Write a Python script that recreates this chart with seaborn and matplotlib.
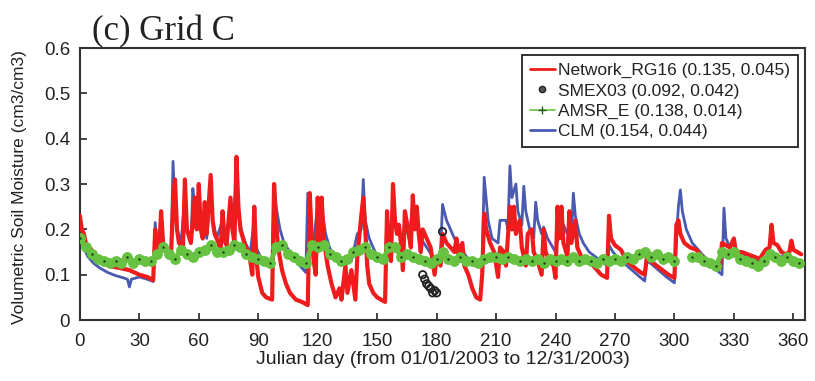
import numpy as np
import pandas as pd
import matplotlib
matplotlib.use("Agg")
import matplotlib.pyplot as plt
from matplotlib.lines import Line2D
import seaborn as sns

# ---------------- data ----------------
net_day = [0, 1, 2, 3, 5, 8, 12, 16, 20, 25, 30, 34, 37, 38, 39, 40, 41, 42, 44, 46, 47, 48, 49, 50, 52, 53, 54, 56,
           58, 59, 60, 61, 62, 63, 64, 66, 67, 68, 70, 71, 72, 73, 74, 76, 77, 78, 79, 80, 81, 83, 85, 86, 87, 88, 89,
           90, 92, 94, 97, 98, 99, 100, 102, 104, 106, 109, 112, 115, 116, 117, 118, 119, 120, 121, 122, 123, 125,
           127, 129, 131, 132, 134, 135, 137, 139, 140, 142, 143, 144, 145, 146, 148, 150, 152, 154, 155, 156, 157,
           158, 159, 160, 161, 162, 163, 164, 166, 167, 168, 169, 170, 171, 172, 173, 175, 177, 179, 180, 182, 183,
           185, 187, 189, 190, 191, 193, 194, 196, 198, 200, 202, 203, 204, 205, 207, 209, 211, 212, 214, 215, 217,
           218, 219, 220, 222, 223, 225, 226, 228, 229, 231, 233, 234, 235, 237, 239, 240, 241, 242, 243, 244, 246,
           247, 248, 250, 251, 253, 255, 258, 261, 263, 266, 267, 268, 270, 273, 276, 280, 283, 285, 286, 288, 291,
           294, 297, 300, 301, 302, 303, 305, 308, 311, 314, 317, 320, 323, 324, 326, 328, 330, 331, 334, 337, 340,
           343, 346, 348, 349, 350, 352, 354, 356, 358, 359, 360, 362, 364]
net_val = [0.23, 0.20, 0.19, 0.17, 0.16, 0.14, 0.125, 0.118, 0.115, 0.11, 0.10, 0.095, 0.088, 0.20, 0.16, 0.15, 0.24,
           0.17, 0.15, 0.145, 0.25, 0.31, 0.20, 0.17, 0.16, 0.31, 0.20, 0.17, 0.27, 0.20, 0.30, 0.20, 0.18, 0.26, 0.19,
           0.32, 0.22, 0.19, 0.17, 0.15, 0.24, 0.18, 0.165, 0.27, 0.20, 0.17, 0.36, 0.25, 0.20, 0.17, 0.15, 0.13, 0.10,
           0.25, 0.14, 0.095, 0.06, 0.05, 0.045, 0.30, 0.22, 0.16, 0.11, 0.08, 0.06, 0.045, 0.04, 0.033, 0.28, 0.18,
           0.13, 0.10, 0.27, 0.17, 0.27, 0.18, 0.12, 0.08, 0.05, 0.07, 0.045, 0.12, 0.06, 0.11, 0.045, 0.14, 0.23,
           0.27, 0.20, 0.12, 0.08, 0.06, 0.05, 0.045, 0.04, 0.24, 0.15, 0.13, 0.30, 0.22, 0.19, 0.21, 0.17, 0.11,
           0.24, 0.19, 0.16, 0.275, 0.20, 0.25, 0.19, 0.15, 0.20, 0.18, 0.16, 0.10, 0.14, 0.12, 0.19, 0.17, 0.16,
           0.15, 0.18, 0.14, 0.17, 0.12, 0.10, 0.07, 0.05, 0.045, 0.10, 0.235, 0.20, 0.17, 0.15, 0.095, 0.16, 0.15,
           0.12, 0.25, 0.20, 0.25, 0.19, 0.22, 0.16, 0.12, 0.19, 0.20, 0.15, 0.13, 0.10, 0.20, 0.15, 0.13, 0.12,
           0.093, 0.25, 0.18, 0.25, 0.17, 0.14, 0.24, 0.17, 0.22, 0.16, 0.14, 0.13, 0.125, 0.11, 0.10, 0.093, 0.23,
           0.18, 0.165, 0.155, 0.13, 0.115, 0.105, 0.10, 0.135, 0.13, 0.12, 0.11, 0.10, 0.093, 0.21, 0.22, 0.19,
           0.17, 0.16, 0.155, 0.14, 0.13, 0.125, 0.115, 0.17, 0.165, 0.16, 0.18, 0.15, 0.15, 0.145, 0.14, 0.135,
           0.155, 0.16, 0.21, 0.17, 0.165, 0.15, 0.145, 0.15, 0.175, 0.155, 0.15, 0.145]

clm_day = [0, 2, 4, 7, 10, 14, 18, 22, 24, 25, 26, 30, 34, 37, 38, 39, 41, 42, 44, 46, 47, 48, 49, 51, 53, 54, 56, 57,
           58, 59, 60, 61, 63, 64, 66, 67, 69, 72, 73, 76, 77, 79, 80, 82, 84, 86, 88, 89, 91, 94, 97, 98, 99, 101,
           103, 106, 109, 112, 114, 115, 116, 118, 120, 121, 122, 124, 126, 128, 131, 134, 137, 140, 142, 143, 144,
           146, 149, 152, 154, 155, 157, 158, 159, 161, 163, 164, 166, 168, 169, 170, 172, 175, 178, 180, 182, 183,
           185, 187, 189, 192, 195, 198, 201, 203, 204, 206, 208, 211, 212, 215, 216, 217, 218, 220, 221, 223, 224,
           225, 227, 229, 230, 231, 233, 234, 236, 238, 240, 242, 244, 246, 248, 249, 250, 252, 254, 257, 260, 263,
           266, 267, 269, 272, 276, 280, 284, 285, 286, 288, 292, 296, 300, 301, 302, 303, 304, 306, 309, 312, 316,
           320, 324, 325, 326, 328, 331, 335, 340, 344, 346, 348, 350, 353, 356, 360, 364]
clm_val = [0.18, 0.16, 0.14, 0.125, 0.115, 0.105, 0.098, 0.093, 0.09, 0.073, 0.09, 0.095, 0.09, 0.085, 0.215, 0.16,
           0.18, 0.16, 0.15, 0.145, 0.35, 0.25, 0.20, 0.17, 0.27, 0.20, 0.17, 0.29, 0.25, 0.20, 0.28, 0.20, 0.22,
           0.18, 0.29, 0.22, 0.18, 0.22, 0.17, 0.24, 0.19, 0.32, 0.23, 0.19, 0.165, 0.15, 0.22, 0.16, 0.14, 0.125,
           0.12, 0.30, 0.25, 0.20, 0.17, 0.15, 0.13, 0.115, 0.105, 0.28, 0.20, 0.17, 0.26, 0.20, 0.25, 0.19, 0.16,
           0.14, 0.13, 0.125, 0.13, 0.19, 0.20, 0.31, 0.22, 0.18, 0.15, 0.135, 0.125, 0.22, 0.17, 0.28, 0.22, 0.19,
           0.17, 0.22, 0.18, 0.25, 0.20, 0.23, 0.18, 0.16, 0.14, 0.13, 0.15, 0.255, 0.22, 0.20, 0.18, 0.16, 0.14,
           0.13, 0.12, 0.125, 0.315, 0.22, 0.18, 0.17, 0.22, 0.22, 0.20, 0.34, 0.27, 0.30, 0.24, 0.21, 0.295, 0.24,
           0.20, 0.18, 0.26, 0.22, 0.19, 0.205, 0.18, 0.165, 0.15, 0.20, 0.21, 0.19, 0.18, 0.28, 0.23, 0.19, 0.17,
           0.15, 0.14, 0.13, 0.12, 0.165, 0.15, 0.135, 0.12, 0.105, 0.09, 0.086, 0.13, 0.125, 0.11, 0.095, 0.082,
           0.18, 0.25, 0.287, 0.24, 0.20, 0.17, 0.155, 0.135, 0.115, 0.10, 0.247, 0.18, 0.16, 0.15, 0.145, 0.135,
           0.125, 0.12, 0.15, 0.145, 0.14, 0.14, 0.135, 0.13]

amsr_day = list(range(0, 301, 3)) + list(range(309, 364, 3))
amsr_val = [0.18, 0.16, 0.145, 0.135, 0.13, 0.125, 0.13, 0.125, 0.14, 0.125, 0.135, 0.13, 0.13, 0.145, 0.16, 0.145,
            0.135, 0.155, 0.145, 0.14, 0.15, 0.155, 0.165, 0.15, 0.15, 0.155, 0.165, 0.16, 0.145, 0.14, 0.135, 0.13,
            0.125, 0.16, 0.165, 0.145, 0.14, 0.13, 0.125, 0.165, 0.16, 0.165, 0.145, 0.14, 0.13, 0.135, 0.15, 0.155,
            0.16, 0.145, 0.14, 0.135, 0.16, 0.16, 0.14, 0.145, 0.14, 0.135, 0.13, 0.125, 0.135, 0.15, 0.135, 0.13,
            0.14, 0.13, 0.13, 0.125, 0.135, 0.14, 0.14, 0.135, 0.14, 0.135, 0.13, 0.135, 0.13, 0.135, 0.125, 0.135,
            0.13, 0.135, 0.13, 0.14, 0.13, 0.135, 0.13, 0.125, 0.135, 0.13, 0.135, 0.13, 0.14, 0.135, 0.145, 0.15,
            0.14, 0.145, 0.135, 0.14, 0.13,
            0.14, 0.14, 0.13, 0.125, 0.12, 0.15, 0.145, 0.15, 0.135, 0.13, 0.125, 0.12, 0.13, 0.145, 0.14, 0.13,
            0.14, 0.13, 0.125]

smex_day = [173, 174, 175, 176, 177, 178, 179, 180, 183]
smex_val = [0.10, 0.09, 0.08, 0.075, 0.07, 0.06, 0.065, 0.06, 0.195]

labels = ["Network_RG16 (0.135, 0.045)", "SMEX03 (0.092, 0.042)",
          "AMSR_E (0.138, 0.014)", "CLM (0.154, 0.044)"]
x_ticks = list(range(0, 361, 30))
y_ticks = [0, 0.1, 0.2, 0.3, 0.4, 0.5, 0.6]
y_ticklabels = ["0", "0.1", "0.2", "0.3", "0.4", "0.5", "0.6"]

# ---------------- style ----------------
sns.set_style("white")
plt.rcParams["font.family"] = ["Liberation Sans", "DejaVu Sans"]

RED = "#ee1c1c"
BLUE = "#4a5ab0"
GREEN = "#66c240"
INK = "#222222"

fig = plt.figure(figsize=(8.15, 3.81), dpi=100)
ax = fig.add_axes([0.098, 0.16, 0.89, 0.714])

net = pd.DataFrame({"day": net_day, "sm": net_val})
clm = pd.DataFrame({"day": clm_day, "sm": clm_val})
amsr = pd.DataFrame({"day": amsr_day, "sm": amsr_val})
smex = pd.DataFrame({"day": smex_day, "sm": smex_val})
amsr_a = amsr[amsr["day"] <= 300]
amsr_b = amsr[amsr["day"] > 300]

sns.lineplot(data=clm, x="day", y="sm", ax=ax, color=BLUE, lw=2.0, legend=False, zorder=2)
sns.lineplot(data=net, x="day", y="sm", ax=ax, color=RED, lw=3.0, legend=False, zorder=3)
for part in (amsr_a, amsr_b):
    sns.lineplot(data=part, x="day", y="sm", ax=ax, color=GREEN, lw=3.5, marker="o", ms=7,
                 markerfacecolor=GREEN, markeredgecolor=GREEN, legend=False, zorder=4)
    sns.scatterplot(data=part.iloc[::2], x="day", y="sm", ax=ax, color="#1a3a10", s=3,
                    linewidth=0, legend=False, zorder=5)
sns.scatterplot(data=smex, x="day", y="sm", ax=ax, facecolor="none", edgecolor=INK,
                s=28, linewidth=1.3, legend=False, zorder=6)

ax.set_xlim(0, 366)
ax.set_ylim(0, 0.6)
ax.set_xticks(x_ticks)
ax.set_yticks(y_ticks)
ax.set_yticklabels(y_ticklabels)
ax.tick_params(axis="both", direction="in", length=5, width=1.2, labelsize=13.5, colors=INK)
ax.tick_params(axis="x", bottom=True, top=False, pad=9)
ax.tick_params(axis="y", left=True, right=False, pad=7)
for s in ax.spines.values():
    s.set_color("#333333")
    s.set_linewidth(1.5)

ax.set_xlabel("Julian day (from 01/01/2003 to 12/31/2003)", fontsize=14, color=INK, labelpad=1)
ax.set_ylabel("Volumetric Soil Moisture (cm3/cm3)", fontsize=12.5, color=INK)
ax.yaxis.set_label_coords(-0.073, 0.49)

fig.text(0.113, 0.895, "(c) Grid C", fontsize=25, family=["Liberation Serif", "DejaVu Serif"],
         color=INK, ha="left", va="baseline")

handles = [
    Line2D([0], [0], color=RED, lw=2),
    Line2D([0], [0], ls="none", marker="o", ms=4.5, markerfacecolor="#555555", markeredgecolor=INK),
    Line2D([0], [0], color=GREEN, lw=1.2, marker="+", ms=6, markeredgecolor="#2a5a20"),
    Line2D([0], [0], color=BLUE, lw=2),
]
leg = ax.legend(handles, labels, loc="upper right", bbox_to_anchor=(0.99, 0.974), fontsize=12.5,
                frameon=True, fancybox=False, edgecolor=INK, framealpha=1,
                handlelength=1.45, handletextpad=0.2, borderpad=0.45, labelspacing=0.3, borderaxespad=0)
leg.get_frame().set_linewidth(1.3)
for t in leg.get_texts():
    t.set_color(INK)

fig.savefig("out.png", dpi=100, facecolor="white")
